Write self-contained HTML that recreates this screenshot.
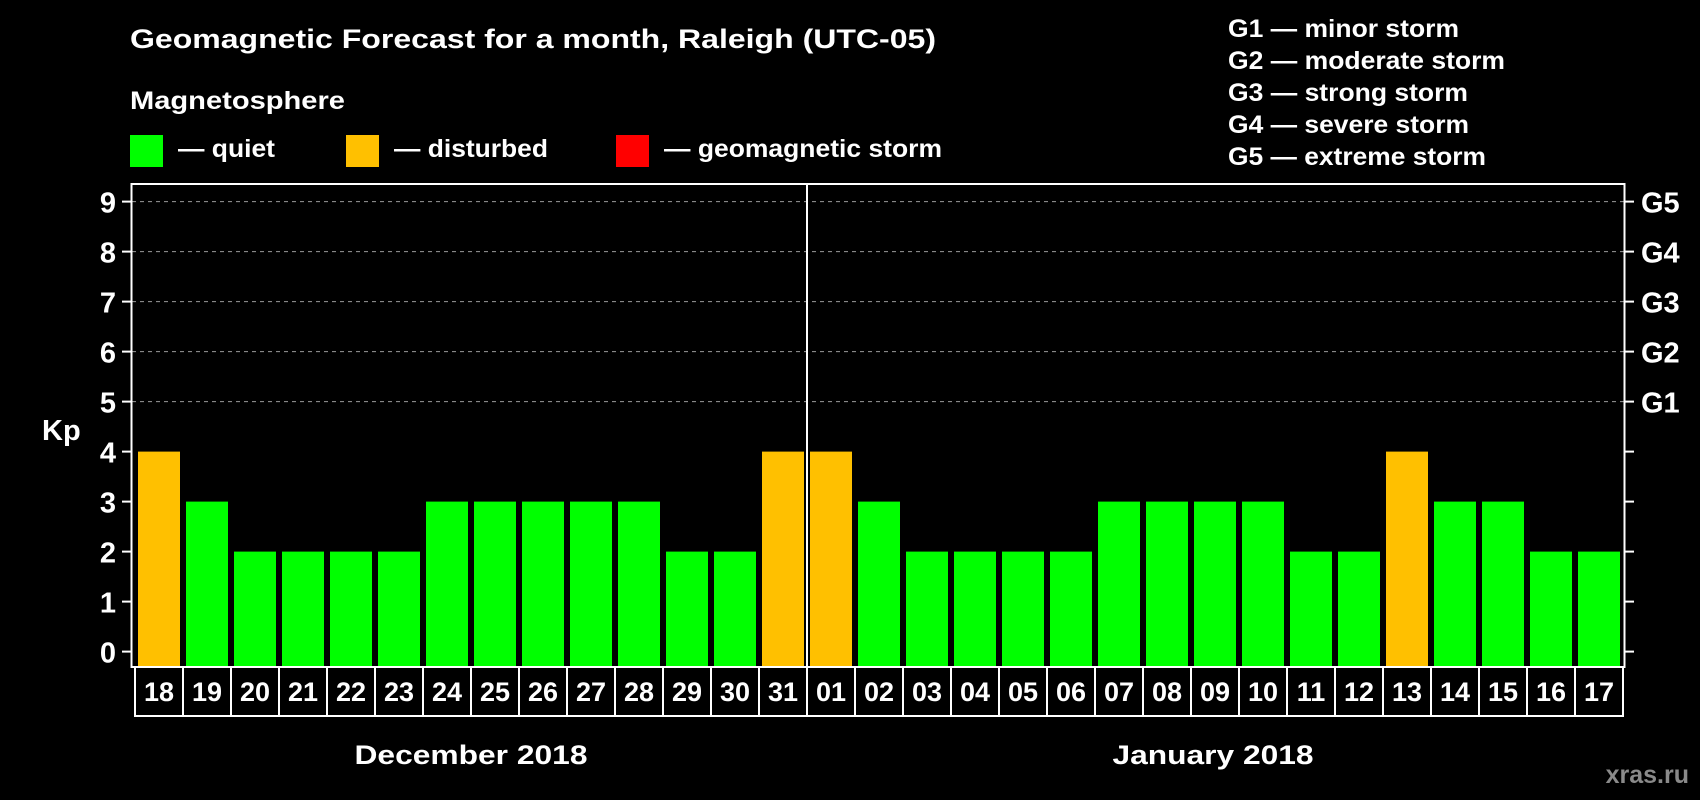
<!DOCTYPE html>
<html><head><meta charset="utf-8"><style>
html,body{margin:0;padding:0;background:#000;width:1700px;height:800px;overflow:hidden}
text{font-family:"Liberation Sans",Arial,sans-serif;font-weight:bold;fill:#fff}
</style></head><body>
<svg id="chart" width="1700" height="800" viewBox="0 0 1700 800" xmlns="http://www.w3.org/2000/svg">
<rect width="1700" height="800" fill="#000"/>
<text x="130" y="48" font-size="27" textLength="806" lengthAdjust="spacingAndGlyphs">Geomagnetic Forecast for a month, Raleigh (UTC-05)</text>
<text x="130" y="109" font-size="25" textLength="215" lengthAdjust="spacingAndGlyphs">Magnetosphere</text>
<rect x="130" y="135" width="33" height="32" fill="#00ff00"/>
<text x="178" y="157" font-size="25" textLength="97" lengthAdjust="spacingAndGlyphs">— quiet</text>
<rect x="346" y="135" width="33" height="32" fill="#ffc000"/>
<text x="394" y="157" font-size="25" textLength="154" lengthAdjust="spacingAndGlyphs">— disturbed</text>
<rect x="616" y="135" width="33" height="32" fill="#ff0000"/>
<text x="664" y="157" font-size="25" textLength="278" lengthAdjust="spacingAndGlyphs">— geomagnetic storm</text>
<g font-size="25">
<text x="1228" y="37" textLength="231" lengthAdjust="spacingAndGlyphs">G1 — minor storm</text>
<text x="1228" y="69" textLength="277" lengthAdjust="spacingAndGlyphs">G2 — moderate storm</text>
<text x="1228" y="101" textLength="240" lengthAdjust="spacingAndGlyphs">G3 — strong storm</text>
<text x="1228" y="133" textLength="241" lengthAdjust="spacingAndGlyphs">G4 — severe storm</text>
<text x="1228" y="165" textLength="258" lengthAdjust="spacingAndGlyphs">G5 — extreme storm</text>
</g>
<text x="42" y="440" font-size="29">Kp</text>
<g id="grid"></g>
<g id="bars"></g>
<rect x="131.5" y="184" width="1493" height="483" fill="none" stroke="#fff" stroke-width="2"/>
<line x1="807" y1="184" x2="807" y2="667" stroke="#fff" stroke-width="2"/>
<g id="axes"></g>
<g id="dates"></g>
<text x="471" y="764" font-size="27" text-anchor="middle" textLength="233" lengthAdjust="spacingAndGlyphs">December 2018</text>
<text x="1213" y="764" font-size="27" text-anchor="middle" textLength="201" lengthAdjust="spacingAndGlyphs">January 2018</text>
<text x="1689" y="783" font-size="25" text-anchor="end" style="fill:#8a8a8a">xras.ru</text>
</svg>
<script>
const days = ["18","19","20","21","22","23","24","25","26","27","28","29","30","31","01","02","03","04","05","06","07","08","09","10","11","12","13","14","15","16","17"];
const kpValues = [4,3,2,2,2,2,3,3,3,3,3,2,2,4,4,3,2,2,2,2,3,3,3,3,2,2,4,3,3,2,2];
const yTicks = [0,1,2,3,4,5,6,7,8,9];
const stormLabels = ["","","","","","G1","G2","G3","G4","G5"];
const NS="http://www.w3.org/2000/svg";
const x0=135, pitch=48, plotBottom=667;
function yScale(v){return 651.6 - v*50;}
function xScale(i){return x0 + i*pitch;}
function mk(tag,attrs,parent){const e=document.createElementNS(NS,tag);for(const k in attrs)e.setAttribute(k,attrs[k]);parent.appendChild(e);return e;}
const grid=document.getElementById('grid'), bars=document.getElementById('bars'), axes=document.getElementById('axes'), dates=document.getElementById('dates');
yTicks.forEach((t,i)=>{
  const y=yScale(t);
  if(t>=5){
    const g=mk('line',{x1:132,x2:1624,y1:y,y2:y,stroke:'#9a9a9a','stroke-width':1,'stroke-dasharray':'4,4'},grid);
    
    
  }
  const lt=mk('line',{x1:122,x2:131,y1:y,y2:y,stroke:'#fff','stroke-width':2},axes);
  
  
  const rt=mk('line',{x1:1625,x2:1634,y1:y,y2:y,stroke:'#fff','stroke-width':2},axes);
  
  
  const tl=mk('text',{x:116,y:y+11,'font-size':29,'text-anchor':'end'},axes);
  tl.textContent=String(t);
  
  
  if(stormLabels[i]){
    const sl=mk('text',{x:1641,y:y+11,'font-size':29},axes);
    sl.textContent=stormLabels[i];
    
    
  }
});
kpValues.forEach((v,i)=>{
  const x=xScale(i)+3, yt=yScale(v);
  const color=v>=5?'#ff0000':(v>=4?'#ffc000':'#00ff00');
  const b=mk('rect',{x:x,y:yt,width:42,height:plotBottom-yt,fill:color},bars);
  
  
});
days.forEach((d,i)=>{
  const x=xScale(i);
  const c=mk('rect',{x:x,y:667,width:pitch,height:49,fill:'none',stroke:'#fff','stroke-width':2},dates);
  
  
  const t=mk('text',{x:x+pitch/2,y:701,'font-size':27,'text-anchor':'middle'},dates);
  t.textContent=d;
  
  
});
</script>
</body></html>
